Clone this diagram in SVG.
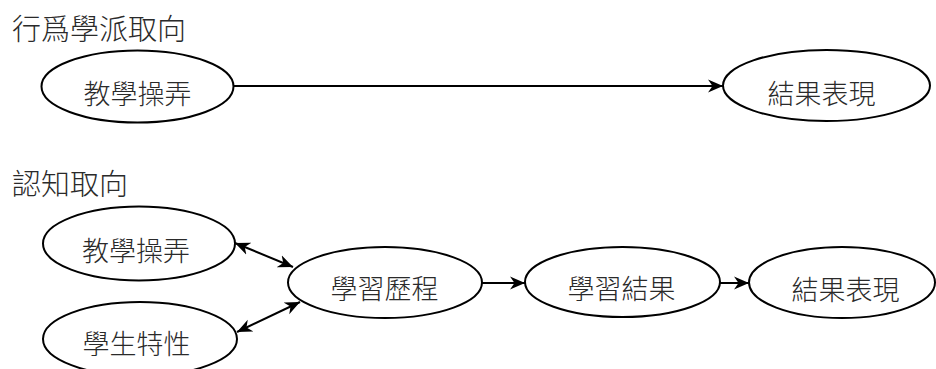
<svg xmlns="http://www.w3.org/2000/svg" width="936" height="369" viewBox="0 0 936 369">
  <style>
    .node ellipse { fill: #ffffff; stroke: #000000; stroke-width: 2; }
    .label { font-family: "Noto Sans CJK TC", "Noto Sans CJK SC", sans-serif; font-size: 27px; font-weight: 300; fill: #2a2a2a; text-anchor: middle; dominant-baseline: central; }
    .title { font-family: "Noto Sans CJK TC", "Noto Sans CJK SC", sans-serif; font-size: 29px; font-weight: 300; fill: #2a2a2a; dominant-baseline: central; }
    .edge { fill: none; stroke: #000000; stroke-width: 2; }
  </style>
  <defs>
    <marker id="arrow" markerUnits="userSpaceOnUse" markerWidth="16" markerHeight="14" viewBox="0 0 16 14" refX="15" refY="7" orient="auto-start-reverse">
      <path d="M0,0.5 L15,7 L0,13.5 L4.5,7 Z" fill="#000000"/>
    </marker>
  </defs>
  <rect width="936" height="369" fill="#ffffff"/>

  <!-- section headings -->
  <text class="title" x="12" y="27">行爲學派取向</text>
  <text class="title" x="12" y="181.5">認知取向</text>

  <!-- connectors -->
  <g id="connectors">
    <path class="edge" d="M233,86 H723" marker-end="url(#arrow)"/>
    <path class="edge" d="M235,243 L293,267" marker-start="url(#arrow)" marker-end="url(#arrow)"/>
    <path class="edge" d="M237,332 L300,302" marker-start="url(#arrow)" marker-end="url(#arrow)"/>
    <path class="edge" d="M482,283 H525" marker-end="url(#arrow)"/>
    <path class="edge" d="M720,283 H749" marker-end="url(#arrow)"/>
  </g>

  <!-- behaviourist model -->
  <g id="b-teaching" class="node">
    <ellipse cx="137.5" cy="86.5" rx="96" ry="36"/>
    <text class="label" x="137.5" y="92.5">教學操弄</text>
  </g>
  <g id="b-performance" class="node">
    <ellipse cx="826.5" cy="85.5" rx="103.5" ry="35.5"/>
    <text class="label" x="821.5" y="92.5">結果表現</text>
  </g>

  <!-- cognitive model -->
  <g id="c-teaching" class="node">
    <ellipse cx="139" cy="243.5" rx="96" ry="37"/>
    <text class="label" x="136" y="249.5">教學操弄</text>
  </g>
  <g id="c-student" class="node">
    <ellipse cx="140" cy="339" rx="97" ry="37"/>
    <text class="label" x="136.5" y="342.5">學生特性</text>
  </g>
  <g id="c-process" class="node">
    <ellipse cx="385" cy="282.5" rx="97" ry="35.5"/>
    <text class="label" x="384.5" y="287.5">學習歷程</text>
  </g>
  <g id="c-result" class="node">
    <ellipse cx="622.5" cy="282" rx="97.5" ry="35"/>
    <text class="label" x="621.5" y="287.5">學習結果</text>
  </g>
  <g id="c-performance" class="node">
    <ellipse cx="842" cy="282.5" rx="93" ry="35.5"/>
    <text class="label" x="845.5" y="288.5">結果表現</text>
  </g>
</svg>
